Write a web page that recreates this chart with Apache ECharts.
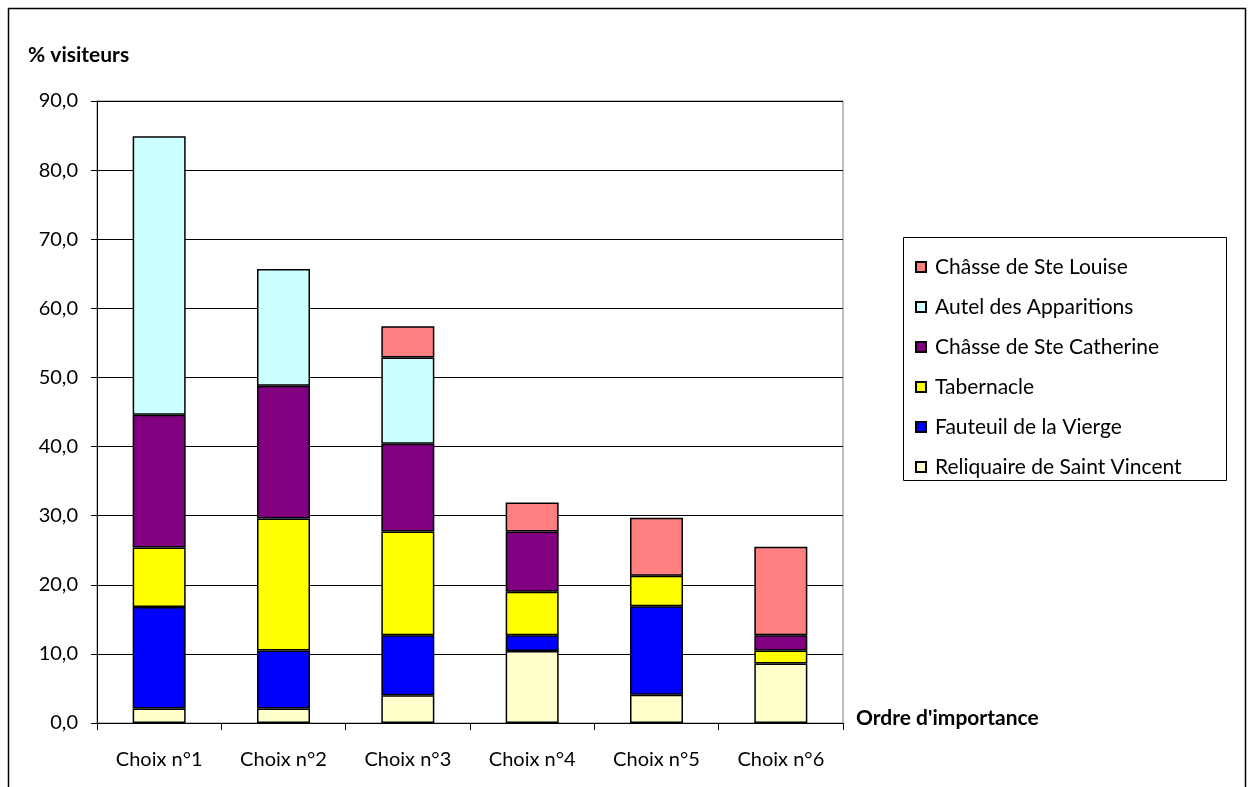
<!DOCTYPE html>
<html><head><meta charset="utf-8">
<script src="https://cdn.jsdelivr.net/npm/echarts@6/dist/echarts.min.js"></script>
<style>html,body{margin:0;padding:0;background:#fff}#c{width:1252px;height:787px}</style>
</head><body><div id="c"></div>
<script>
var categories = ['Choix n°1','Choix n°2','Choix n°3','Choix n°4','Choix n°5','Choix n°6'];
var reliquaire = [2.1, 2.1, 4.0, 10.4, 4.1, 8.6];
var fauteuil   = [14.7, 8.4, 8.7, 2.3, 12.8, 0];
var tabernacle = [8.6, 19.1, 15.0, 6.3, 4.4, 1.9];
var catherine  = [19.2, 19.2, 12.7, 8.7, 0, 2.2];
var autel      = [40.3, 16.9, 12.5, 0, 0, 0];
var louise     = [0, 0, 4.5, 4.2, 8.4, 12.8];
var seriesNames = ['Reliquaire de Saint Vincent','Fauteuil de la Vierge','Tabernacle','Châsse de Ste Catherine','Autel des Apparitions','Châsse de Ste Louise'];
var seriesData = [reliquaire, fauteuil, tabernacle, catherine, autel, louise];
var seriesColors = ['#FFFFCC','#0000FF','#FFFF00','#800080','#CCFFFF','#FF8080'];
var yTicks = {min: 0, max: 90, interval: 10};

var FONT = 'Lato';
var chart = echarts.init(document.getElementById('c'));
var series = seriesNames.map(function(n, i){
  return {
    name: n, type: 'bar', stack: 'all', barWidth: 53,
    data: seriesData[i].map(function(v){ return v === 0 ? '-' : v; }),
    itemStyle: {color: seriesColors[i], borderColor: '#000', borderWidth: 1.5},
    emphasis: {disabled: true}
  };
});
chart.setOption({
  animation: false,
  textStyle: {fontFamily: FONT},
  grid: {left: 97, top: 101, width: 746, height: 622, show: true, borderColor: '#808080', borderWidth: 1},
  graphic: [
    {type: 'rect', shape: {x: 8.5, y: 8.5, width: 1237, height: 800}, style: {fill: null, stroke: '#000', lineWidth: 1.5}, silent: true, z: -1},
    {type: 'rect', shape: {x: 903.5, y: 237.5, width: 323, height: 243}, style: {fill: '#fff', stroke: '#000', lineWidth: 1}, silent: true, z: 1},
    {type: 'text', left: 28, top: 45, style: {text: '% visiteurs', font: 'bold 21px ' + FONT, fill: '#000'}},
    {type: 'text', left: 856, top: 708, style: {text: "Ordre d'importance", font: 'bold 21px ' + FONT, fill: '#000'}}
  ],
  legend: {
    orient: 'vertical', left: 910, top: 250, z: 5,
    data: seriesNames.slice().reverse(),
    icon: 'rect', itemWidth: 10, itemHeight: 10, itemGap: 16,
    textStyle: {fontFamily: FONT, fontSize: 21, color: '#000', lineHeight: 24, padding: [0,0,0,4]},
    selectedMode: false
  },
  xAxis: {
    type: 'category', data: categories,
    axisLine: {lineStyle: {color: '#000', width: 1}},
    axisTick: {show: true, length: 7, lineStyle: {color: '#000'}},
    axisLabel: {color: '#000', fontSize: 20, margin: 27, fontFamily: FONT}
  },
  yAxis: {
    type: 'value', min: yTicks.min, max: yTicks.max, interval: yTicks.interval,
    axisLine: {show: true, lineStyle: {color: '#000', width: 1}},
    axisTick: {show: true, length: 6, lineStyle: {color: '#000'}},
    axisLabel: {color: '#000', fontSize: 20, margin: 19, fontFamily: FONT,
      formatter: function(v){ return v.toFixed(1).replace('.', ','); }},
    splitLine: {lineStyle: {color: '#000', width: 1}}
  },
  series: series
});
</script></body></html>
